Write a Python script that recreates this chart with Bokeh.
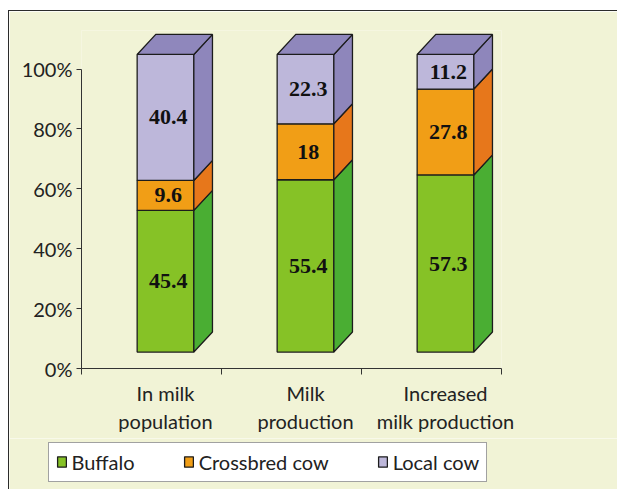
from bokeh.plotting import figure
from bokeh.layouts import column
from bokeh.models import (ColumnDataSource, FixedTicker, PrintfTickFormatter,
                          Legend, LegendItem, Range1d)
from bokeh.core.properties import value
from bokeh.embed import file_html
from bokeh.resources import INLINE

# --- data -------------------------------------------------------------
categories = ["In milk\npopulation", "Milk\nproduction", "Increased\nmilk production"]
series = ["Buffalo", "Crossbred cow", "Local cow"]
buffalo = [45.4, 55.4, 57.3]
crossbred = [9.6, 18, 27.8]
local_cow = [40.4, 22.3, 11.2]
y_ticks = [0, 20, 40, 60, 80, 100]

# --- styling ----------------------------------------------------------
front_colors = ["#86c226", "#f19e16", "#bdb7da"]
side_colors = ["#4aae33", "#e7771b", "#8e86bb"]
top_color = "#8f87bc"
edge = "#1c1c1c"
cream = "#f1f3d6"
ink = "#222222"
rule = "1.5px solid #2b2b2b"
FONT = "Lato"

# 3-D bar geometry (x in category units, y in percent)
BAR_SHIFT = 0.6     # front-face centre offset inside each category slot
BAR_W = 0.405
FACE_BASE = 5.5     # front face sits slightly below the back wall
FACE_SPAN = 99.4
DX = 0.133          # depth offset to the right
DY = 6.7            # depth offset upwards

p = figure(width=609, height=428, x_range=Range1d(0, 3), y_range=Range1d(0, 112.9),
           output_backend="svg", toolbar_location=None,
           min_border_left=72, min_border_right=117, min_border_top=19,
           min_border_bottom=71, border_fill_color=cream,
           background_fill_color=cream, outline_line_color=None)
p.grid.visible = False
p.frame_align = False
# the chart panel sits inset on the white page with a dark rule top and left
p.margin = (10, 0, 0, 8)
p.styles = {"border-top": rule, "border-left": rule}

stacks = [buffalo, crossbred, local_cow]
n = len(categories)
fronts = {k: dict(left=[], right=[], bottom=[], top=[]) for k in range(3)}
sides = {k: dict(xs=[], ys=[]) for k in range(3)}
tops = dict(xs=[], ys=[])
labels = dict(x=[], y=[], text=[])

for i in range(n):
    vals = [s[i] for s in stacks]
    total = sum(vals)
    xl = i + BAR_SHIFT - BAR_W / 2
    xr = i + BAR_SHIFT + BAR_W / 2
    acc = 0.0
    for k, v in enumerate(vals):
        b = FACE_BASE + acc / total * FACE_SPAN
        acc += v
        t = FACE_BASE + acc / total * FACE_SPAN
        f = fronts[k]
        f["left"].append(xl); f["right"].append(xr)
        f["bottom"].append(b); f["top"].append(t)
        sides[k]["xs"].append([xr, xr + DX, xr + DX, xr])
        sides[k]["ys"].append([b, b + DY, t + DY, t])
        labels["x"].append(i + BAR_SHIFT + 0.02)
        labels["y"].append((b + t) / 2)
        labels["text"].append(f"{v:g}")
    T = FACE_BASE + FACE_SPAN
    tops["xs"].append([xl, xl + DX, xr + DX, xr])
    tops["ys"].append([T, T + DY, T + DY, T])

front_sources = [ColumnDataSource(fronts[k]) for k in range(3)]
for k in range(3):
    p.quad(source=front_sources[k], left="left", right="right",
           bottom="bottom", top="top", fill_color=front_colors[k],
           line_color=edge, line_width=1.3)
    p.patches(source=ColumnDataSource(sides[k]), xs="xs", ys="ys",
              fill_color=side_colors[k], line_color=edge, line_width=1.3)
p.patches(source=ColumnDataSource(tops), xs="xs", ys="ys",
          fill_color=top_color, line_color=edge, line_width=1.3)

p.text(source=ColumnDataSource(labels), x="x", y="y", text="text",
       text_font=value("Liberation Serif"), text_font_style="bold",
       text_font_size="22px", text_color="#111111",
       text_align="center", text_baseline="middle")

# --- axes -------------------------------------------------------------
yax = p.yaxis[0]
yax.ticker = FixedTicker(ticks=y_ticks)
yax.formatter = PrintfTickFormatter(format="%d%%")
yax.bounds = (0, 100)
yax.major_tick_out = 5
yax.major_tick_in = 0
yax.minor_tick_out = 0
yax.minor_tick_in = 0
yax.axis_line_color = "#333333"
yax.major_tick_line_color = "#333333"
yax.major_label_text_font = FONT
yax.major_label_text_font_size = "20px"
yax.major_label_text_color = ink
yax.major_label_standoff = 4

label_pos = [i + BAR_SHIFT for i in range(n)]
xax = p.xaxis[0]
xax.ticker = FixedTicker(ticks=label_pos, minor_ticks=list(range(n + 1)))
xax.major_label_overrides = {pos: lab for pos, lab in zip(label_pos, categories)}
xax.major_tick_in = 0
xax.major_tick_out = 0
xax.minor_tick_in = 0
xax.minor_tick_out = 6
xax.axis_line_color = "#333333"
xax.minor_tick_line_color = "#333333"
xax.major_label_text_font = FONT
xax.major_label_text_font_size = "20px"
xax.major_label_text_color = ink
xax.major_label_standoff = 6

# --- legend strip under the chart -------------------------------------
pl = figure(width=609, height=51, x_range=Range1d(0, 1), y_range=Range1d(0, 1),
            output_backend="svg", toolbar_location=None,
            x_axis_location=None, y_axis_location=None,
            min_border=0, border_fill_color=cream,
            background_fill_color=cream, outline_line_color=None)
pl.grid.visible = False
pl.frame_align = False
pl.margin = (0, 0, 0, 8)
pl.styles = {"border-left": rule}

# swatch renderers share the bar sources; their bars fall outside this strip's range
swatches = [pl.quad(source=front_sources[k], left="left", right="right",
                    bottom="bottom", top="top", fill_color=front_colors[k],
                    line_color=edge, line_width=1.3) for k in range(3)]

legend = Legend(items=[LegendItem(label=s, renderers=[r], index=0)
                       for s, r in zip(series, swatches)],
                orientation="horizontal", location=(38.5, 7.5),
                label_text_font=FONT, label_text_font_size="20px",
                label_text_color=ink, glyph_width=11, glyph_height=13,
                label_standoff=5, spacing=48, padding=7,
                border_line_color="#444444", border_line_width=1,
                background_fill_color="white", background_fill_alpha=1,
                margin=0)
pl.add_layout(legend)

page = column(p, pl, spacing=0)
open("out.html", "w").write(file_html(page, INLINE))
